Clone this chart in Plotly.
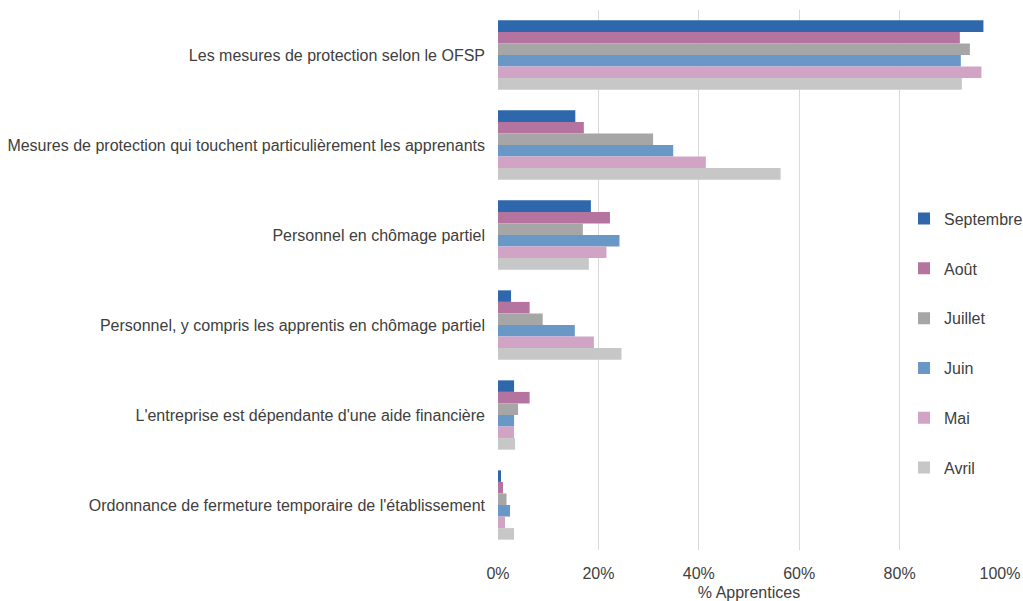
import plotly.graph_objects as go

categories = [
    "Les mesures de protection selon le OFSP",
    "Mesures de protection qui touchent particulièrement les apprenants",
    "Personnel en chômage partiel",
    "Personnel, y compris les apprentis en chômage partiel",
    "L'entreprise est dépendante d'une aide financière",
    "Ordonnance de fermeture temporaire de l'établissement",
]

series_names = ["Septembre", "Août", "Juillet", "Juin", "Mai", "Avril"]
septembre = [96.7, 15.4, 18.5, 2.6, 3.2, 0.6]
aout = [92.0, 17.1, 22.3, 6.3, 6.3, 1.0]
juillet = [94.0, 30.9, 16.9, 8.9, 4.0, 1.7]
juin = [92.2, 34.9, 24.2, 15.3, 3.2, 2.4]
mai = [96.3, 41.4, 21.6, 19.1, 3.2, 1.4]
avril = [92.4, 56.3, 18.1, 24.6, 3.4, 3.2]
series_values = [septembre, aout, juillet, juin, mai, avril]
colors = ["#2E67AC", "#B5739F", "#A6A6A6", "#6A98C6", "#D1A3C4", "#C7C7C7"]

x_ticks = [0, 20, 40, 60, 80, 100]
x_tick_labels = ["0%", "20%", "40%", "60%", "80%", "100%"]

fig = go.Figure()
for name, vals, col in zip(series_names, series_values, colors):
    fig.add_trace(go.Bar(
        y=categories, x=vals, name=name, orientation="h",
        marker=dict(color=col, line=dict(width=0)),
        legendgroup=name,
    ))

font_family = "Liberation Sans, Arial, sans-serif"
fig.update_layout(
    width=1023, height=601,
    barmode="group", bargap=0.23, bargroupgap=0,
    plot_bgcolor="white", paper_bgcolor="white",
    margin=dict(l=498, r=23, t=10, b=51, autoexpand=False),
    font=dict(family=font_family, size=16, color="#404040"),
    xaxis=dict(
        range=[0, 100], tickvals=x_ticks, ticktext=x_tick_labels,
        showgrid=True, gridcolor="#D9D9D9", gridwidth=1,
        zeroline=False, showline=False, automargin=False,
        ticks="", ticklabelstandoff=12,
        title=dict(text="% Apprentices", font=dict(size=16, color="#404040"), standoff=5),
        tickfont=dict(size=16, color="#404040"),
    ),
    yaxis=dict(
        autorange="reversed", showgrid=False, zeroline=False,
        showline=False, ticks="", ticklabelstandoff=12, automargin=False,
        tickfont=dict(size=16, color="#404040"),
    ),
    legend=dict(
        xref="container", yref="container",
        x=0.8837, xanchor="left", y=0.429, yanchor="middle",
        bgcolor="rgba(0,0,0,0)", tracegroupgap=26,
        font=dict(size=16, color="#404040"),
        itemwidth=30,
    ),
)

fig.write_html(
    "out.html",
    config={"displayModeBar": False},
    post_script="document.body.style.margin='0';document.body.style.overflow='hidden';",
)
